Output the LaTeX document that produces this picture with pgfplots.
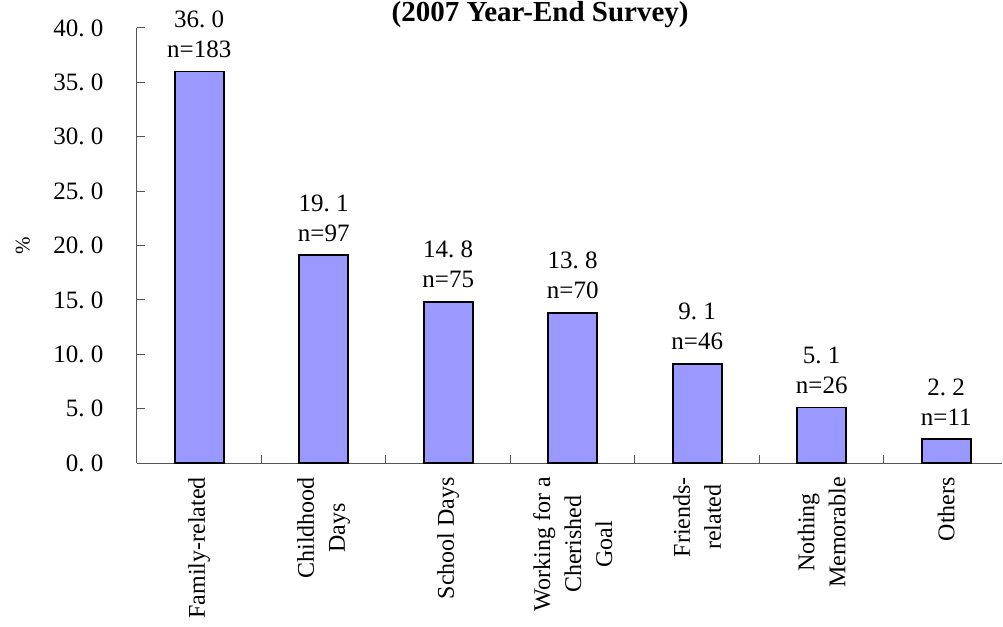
\documentclass[border=0pt]{standalone}
\usepackage{pgfplots}
\pgfplotsset{compat=1.18}
\usepackage{pgfplotstable}
\usepackage{fontspec}
\setmainfont{Liberation Serif}
\definecolor{barblue}{HTML}{9999FF}
\definecolor{axisgray}{HTML}{555555}
% decimal point set in a half-em cell, as in a CJK typeface
\newcommand{\dotc}{\makebox[0.5em][l]{.}}

% share (%) and number of respondents per category
\pgfplotstableread{
x y n
0 36.0 183
1 19.1 97
2 14.8 75
3 13.8 70
4 9.1 46
5 5.1 26
6 2.2 11
}\memtable

\begin{document}
\begin{tikzpicture}
\begin{axis}[
  name=ax,
  scale only axis,
  width=865pt, height=435pt,
  xmin=-0.5, xmax=6.448,
  ymin=0, ymax=40,
  clip=false,
  axis x line=bottom, axis y line=left,
  axis line style={-, axisgray, line width=1pt},
  tick align=inside,
  major tick length=8pt,
  minor tick length=8pt,
  /pgf/number format/assume math mode=true,
  /pgf/number format/dec sep={\dotc},
  ytick={0,5,...,40},
  yticklabel={\pgfmathprintnumber[fixed,fixed zerofill,precision=1]{\tick}},
  yticklabel style={font=\fontsize{25}{25}\selectfont, xshift=-30pt},
  major y tick style={axisgray, line width=1pt},
  xtick={0,...,6},
  major x tick style={draw=none},
  minor xtick={0.5,1.5,...,5.5},
  minor x tick style={axisgray, line width=1pt},
  xticklabels={Family-related, {Childhood\\Days}, School Days,
    {Working for a\\Cherished\\Goal}, {Friends-\\related},
    {Nothing\\Memorable}, Others},
  xticklabel style={rotate=90, anchor=east, align=center,
    font=\fontsize{24}{31}\selectfont, inner ysep=0pt, inner xsep=14pt},
  ylabel={\%},
  ylabel style={font=\fontsize{21}{21}\selectfont,
    at={(axis description cs:-0.132,0.5)}, anchor=center},
  title={(2007 Year-End Survey)},
  title style={font=\fontsize{29}{29}\selectfont\bfseries,
    at={(axis description cs:0.466,1)}, anchor=base},
]
\addplot[ybar, bar width=49pt, fill=barblue, draw=black, line width=1.8pt,
  visualization depends on={\thisrow{n} \as \nval},
  nodes near coords={\pgfmathprintnumber[fixed,fixed zerofill,precision=1]{\pgfplotspointmeta}\\n=\pgfmathprintnumber[fixed,precision=0]{\nval}},
  nodes near coords style={font=\fontsize{25}{30}\selectfont, align=center,
    anchor=south, inner sep=0pt, yshift=13pt, text=black}
] table[x=x, y=y] {\memtable};
\end{axis}
\pgfresetboundingbox
\path[use as bounding box] ([xshift=-137pt,yshift=-163pt]ax.south west)
  rectangle ++(1003pt,626pt);
\end{tikzpicture}
\end{document}
